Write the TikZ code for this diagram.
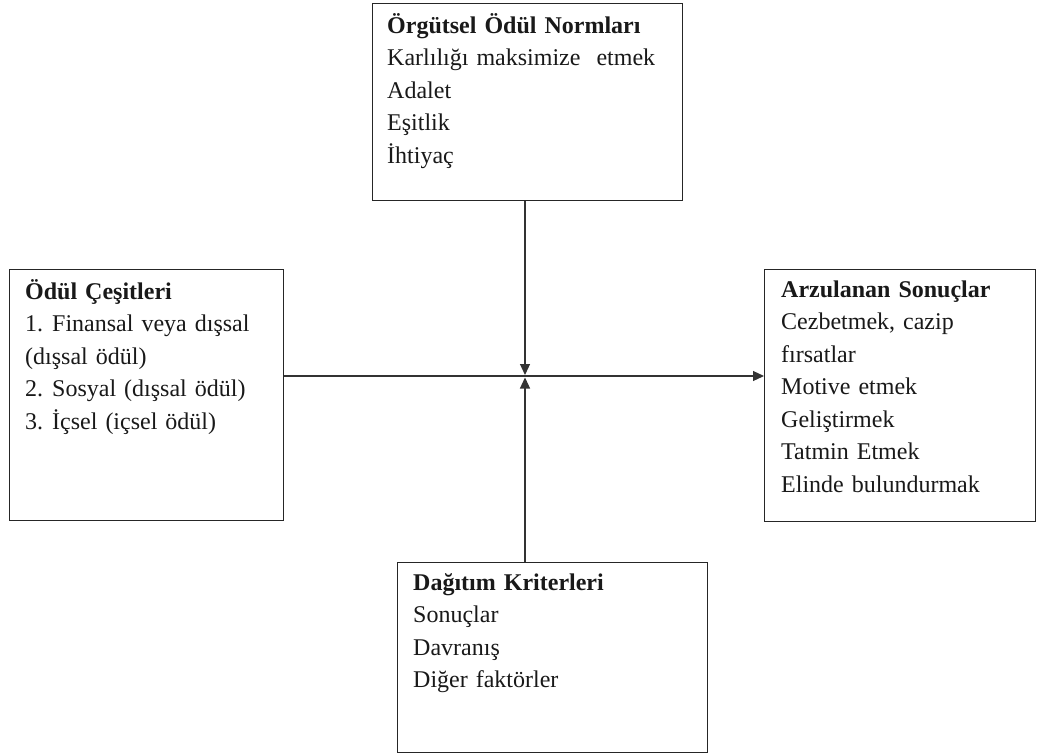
\documentclass[tikz,border=0pt]{standalone}
\usepackage{fontspec}
\setmainfont{Liberation Serif}
\usetikzlibrary{arrows.meta}
\begin{document}
\begin{tikzpicture}[x=1pt,y=-1pt,
  box/.style={draw=black!85, line width=1.4pt, anchor=north west, inner sep=0pt},
  txt/.style={anchor=base west, inner sep=0pt, align=left, text width=#1,
    font=\fontsize{24}{32.5}\selectfont, text=black!90},
  conn/.style={draw=black!80, line width=1.2pt, -{Triangle[length=11pt,width=10pt]}}
]
\useasboundingbox[fill=white] (0,0) rectangle (1039,755);

\node[box, minimum width=310pt, minimum height=197pt] (top) at (372,3) {};
\node[box, minimum width=274pt, minimum height=251pt] (left) at (9,269) {};
\node[box, minimum width=271pt, minimum height=252pt] (right) at (764,269) {};
\node[box, minimum width=310pt, minimum height=190pt] (bottom) at (397,562) {};

\node[txt=290pt] (toptext) at (387,33) {\textbf{Örgütsel Ödül Normları}\\
Karlılığı maksimize\ \ etmek\\ Adalet\\ Eşitlik\\ İhtiyaç};
\node[txt=255pt] (lefttext) at (25,299) {\textbf{Ödül Çeşitleri}\\
1.\hspace{9pt}Finansal veya dışsal\\ (dışsal ödül)\\
2.\hspace{9pt}Sosyal (dışsal ödül)\\ 3.\hspace{9pt}İçsel (içsel\ ödül)};
\node[txt=250pt] (righttext) at (781,297) {\textbf{Arzulanan Sonuçlar}\\
Cezbetmek, cazip\\ fırsatlar\\ Motive etmek\\ Geliştirmek\\ Tatmin Etmek\\ Elinde bulundurmak};
\node[txt=280pt] (bottomtext) at (413,590) {\textbf{Dağıtım Kriterleri}\\
Sonuçlar\\ Davranış\\ Diğer faktörler};

\coordinate (j) at (525,376);
\coordinate (jt) at (525,375);
\coordinate (jb) at (525,377.5);

\draw[conn] (left.east |- j) -- (right.west |- j);
\draw[conn] (top.south -| j) -- (jt);
\draw[conn] (bottom.north -| j) -- (jb);
\end{tikzpicture}
\end{document}
